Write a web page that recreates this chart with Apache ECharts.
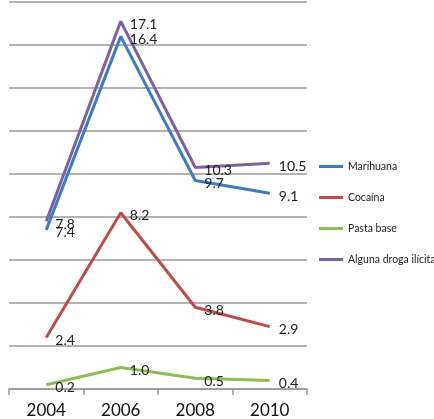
<!DOCTYPE html>
<html><head><meta charset="utf-8">
<script src="https://cdn.jsdelivr.net/npm/echarts@6/dist/echarts.min.js"></script>
<style>html,body{margin:0;padding:0;background:#fff}#c{width:434px;height:419px}</style>
</head><body><div id="c"></div>
<script>
const years = ['2004','2006','2008','2010'];
const marihuana = [7.4, 16.4, 9.7, 9.1];
const cocaina = [2.4, 8.2, 3.8, 2.9];
const pastaBase = [0.2, 1.0, 0.5, 0.4];
const alguna = [7.8, 17.1, 10.3, 10.5];
const names = ['Marihuana','Cocaína','Pasta base','Alguna droga ilícita'];
const colors = ['#3b7dc1','#be4b48','#8fbc54','#7d60a0'];
const FONT = 'Lato, "Open Sans", sans-serif';
function mk(name, data, color){
  return {name, type:'line', data, symbol:'circle', symbolSize:0.1, showSymbol:true, smooth:false,
    lineStyle:{width:3, color}, itemStyle:{color},
    label:{show:true, position:'right', distance:9, offset:[0,3], color:'#222', fontSize:14, fontFamily:FONT,
      formatter:p=>p.value.toFixed(1)}};
}
const chart = echarts.init(document.getElementById('c'));
chart.setOption({
  animation:false,
  grid:{left:9, right:127, top:2, bottom:30, containLabel:false},
  legend:{orient:'vertical', left:314, top:156, itemGap:20, itemWidth:24, itemHeight:14, itemTextGap:8,
    icon:'path://M0,6 L24,6 L24,9 L0,9 Z',
    textStyle:{fontSize:10.5, color:'#222', fontFamily:FONT}, data:names},
  xAxis:{type:'category', data:years, boundaryGap:true,
    axisLine:{lineStyle:{color:'#999', width:1.5}},
    axisTick:{show:true, length:6, lineStyle:{color:'#999', width:1.5}},
    axisLabel:{fontSize:17, color:'#111', fontFamily:FONT, margin:13}},
  yAxis:{type:'value', min:0, max:18, interval:2,
    axisLine:{show:false}, axisTick:{show:false}, axisLabel:{show:false},
    splitLine:{lineStyle:{color:'#999', width:1.5}}},
  series:[mk(names[0], marihuana, colors[0]), mk(names[1], cocaina, colors[1]),
          mk(names[2], pastaBase, colors[2]), mk(names[3], alguna, colors[3])]
});
</script></body></html>
